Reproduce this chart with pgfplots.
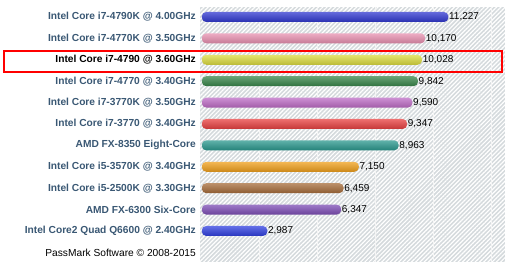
\documentclass[border=0pt]{standalone}
\usepackage{pgfplots}
\pgfplotsset{compat=1.18}
\usepackage{fontspec}
\setmainfont{Liberation Sans}
\usetikzlibrary{patterns.meta}
\definecolor{lab}{HTML}{3A5874}
\definecolor{hbg}{HTML}{D5DADD}
\definecolor{c1}{HTML}{3038D0}
\definecolor{c2}{HTML}{E890B0}
\definecolor{c3}{HTML}{DCDC40}
\definecolor{c4}{HTML}{38864A}
\definecolor{c5}{HTML}{BE6CC6}
\definecolor{c6}{HTML}{E84040}
\definecolor{c7}{HTML}{2A988E}
\definecolor{c8}{HTML}{F0A01C}
\definecolor{c9}{HTML}{A66C3A}
\definecolor{c10}{HTML}{7E4EB6}
\definecolor{c11}{HTML}{3040E0}
\pgfplotsset{
  cbar/.style={xbar, bar width=10bp, bar shift=0pt, draw=none,
    rounded corners=4.5bp,
    top color=#1!75!white, middle color=#1, bottom color=#1!85!black},
}
\begin{document}
\begin{tikzpicture}
\useasboundingbox (0,0) rectangle (505bp,262bp);
\fill[white] (0,0) rectangle (505bp,262bp);
\begin{axis}[
  at={(200bp,0bp)}, anchor=south west,
  scale only axis, width=305bp, height=255bp,
  xmin=-80, xmax=13800,
  ymin=-0.467, ymax=11.45,
  y dir=reverse,
  axis line style={draw=none},
  major tick length=0pt,
  axis background/.style={preaction={fill=hbg},
    pattern={Lines[angle=45,distance=3bp,line width=1.2bp]}, pattern color=white},
  xtick={2640,5280,7920,10560,13200}, xticklabels={},
  scaled x ticks=false,
  xmajorgrids, grid style={white!92!gray, line width=0.9bp},
  ytick={0,...,11},
  yticklabels={
    Intel Core i7-4790K @ 4.00GHz,
    Intel Core i7-4770K @ 3.50GHz,
    \textcolor{black}{Intel Core i7-4790 @ 3.60GHz},
    Intel Core i7-4770 @ 3.40GHz,
    Intel Core i7-3770K @ 3.50GHz,
    Intel Core i7-3770 @ 3.40GHz,
    AMD FX-8350 Eight-Core,
    Intel Core i5-3570K @ 3.40GHz,
    Intel Core i5-2500K @ 3.30GHz,
    AMD FX-6300 Six-Core,
    Intel Core2 Quad Q6600 @ 2.40GHz,
    \textcolor{black}{\mdseries PassMark Software © 2008-2015}},
  yticklabel style={font=\fontsize{10.2bp}{12bp}\selectfont\bfseries, text=lab,
    anchor=east, inner sep=0pt, xshift=-4bp},
  point meta=x,
  nodes near coords,
  every node near coord/.append style={font=\fontsize{10bp}{12bp}\selectfont, text=black,
    anchor=west, inner sep=0.5bp, rounded corners=0pt},
  /pgf/number format/.cd, fixed, precision=0, 1000 sep={,}, assume math mode=true,
]
\addplot[cbar=c1] coordinates {(11227,0)};
\addplot[cbar=c2] coordinates {(10170,1)};
\addplot[cbar=c3] coordinates {(10028,2)};
\addplot[cbar=c4] coordinates {(9842,3)};
\addplot[cbar=c5] coordinates {(9590,4)};
\addplot[cbar=c6] coordinates {(9347,5)};
\addplot[cbar=c7] coordinates {(8963,6)};
\addplot[cbar=c8] coordinates {(7150,7)};
\addplot[cbar=c9] coordinates {(6459,8)};
\addplot[cbar=c10] coordinates {(6347,9)};
\addplot[cbar=c11] coordinates {(2987,10)};
\end{axis}
\draw[red, line width=2bp] (4bp,211bp) rectangle (501.5bp,190bp);
\end{tikzpicture}
\end{document}
